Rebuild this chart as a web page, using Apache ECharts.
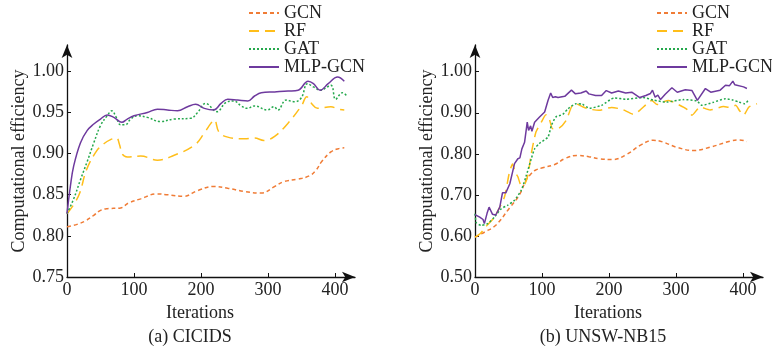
<!DOCTYPE html>
<html>
<head>
<meta charset="utf-8">
<script src="https://cdn.jsdelivr.net/npm/echarts@6/dist/echarts.min.js"></script>
<style>html,body{margin:0;padding:0;background:#fff;}#c{width:772px;height:354px;}</style>
</head>
<body>
<div id="c"></div>
<script>
// ---------- Data ----------
var seriesNames = ['GCN', 'RF', 'GAT', 'MLP-GCN'];
var xTicks = [0, 100, 200, 300, 400];
var yTicksA = [0.75, 0.80, 0.85, 0.90, 0.95, 1.00];
var yTicksB = [0.50, 0.60, 0.70, 0.80, 0.90, 1.00];
var captionA = '(a) CICIDS';
var captionB = '(b) UNSW-NB15';
var xName = 'Iterations';
var yName = 'Computational efficiency';

// (a) CICIDS
var a_gcn_x = [0, 15, 27, 40, 50, 60, 80, 92, 110, 134, 150, 174, 195, 219, 240, 264, 290, 310, 324, 345, 362, 372, 380, 394, 405, 414];
var a_gcn_y = [0.811, 0.814, 0.818, 0.825, 0.831, 0.833, 0.834, 0.840, 0.845, 0.851, 0.850, 0.848, 0.855, 0.860, 0.858, 0.854, 0.852, 0.860, 0.866, 0.869, 0.873, 0.880, 0.890, 0.902, 0.906, 0.907];
var a_rf_x = [0, 10, 19, 29, 44, 55, 65, 74, 78, 83, 90, 110, 135, 160, 190, 205, 215, 220, 227, 240, 265, 280, 294, 310, 330, 350, 358, 366, 374, 394, 405, 414];
var a_rf_y = [0.827, 0.838, 0.852, 0.880, 0.903, 0.912, 0.917, 0.919, 0.912, 0.899, 0.896, 0.897, 0.892, 0.898, 0.910, 0.925, 0.937, 0.941, 0.926, 0.920, 0.918, 0.919, 0.916, 0.921, 0.937, 0.958, 0.969, 0.960, 0.955, 0.957, 0.954, 0.953];
var a_gat_x = [0, 10, 20, 30, 40, 50, 60, 67, 73, 80, 87, 95, 105, 120, 139, 160, 185, 194, 207, 224, 237, 249, 260, 269, 280, 299, 309, 315, 327, 340, 350, 359, 368, 378, 394, 401, 411, 419];
var a_gat_y = [0.827, 0.845, 0.868, 0.890, 0.913, 0.934, 0.946, 0.952, 0.945, 0.935, 0.935, 0.942, 0.946, 0.944, 0.939, 0.942, 0.943, 0.949, 0.961, 0.951, 0.962, 0.964, 0.958, 0.955, 0.958, 0.953, 0.957, 0.953, 0.965, 0.963, 0.968, 0.985, 0.981, 0.977, 0.983, 0.966, 0.974, 0.969];
var a_mlp_x = [0, 5, 10, 20, 30, 40, 50, 60, 70, 82, 90, 100, 120, 135, 150, 165, 180, 192, 205, 219, 230, 240, 255, 270, 280, 290, 310, 330, 345, 360, 368, 378, 390, 404, 414];
var a_mlp_y = [0.827, 0.860, 0.885, 0.913, 0.928, 0.936, 0.942, 0.947, 0.944, 0.938, 0.942, 0.946, 0.950, 0.954, 0.953, 0.952, 0.957, 0.960, 0.955, 0.953, 0.961, 0.966, 0.965, 0.964, 0.970, 0.974, 0.975, 0.976, 0.977, 0.988, 0.985, 0.977, 0.985, 0.993, 0.988];

// (b) UNSW-NB15
var b_gcn_x = [0, 15, 31, 51, 66, 76, 83, 90, 101, 119, 135, 153, 170, 186, 205, 227, 247, 266, 280, 301, 326, 351, 381, 394, 406];
var b_gcn_y = [0.597, 0.610, 0.626, 0.667, 0.699, 0.735, 0.750, 0.760, 0.766, 0.774, 0.789, 0.796, 0.793, 0.788, 0.786, 0.799, 0.821, 0.833, 0.829, 0.816, 0.808, 0.816, 0.831, 0.834, 0.830];
var b_rf_x = [0, 8, 16, 29, 44, 51, 56, 60, 64, 69, 74, 79, 84, 91, 99, 106, 110, 116, 125, 136, 144, 150, 160, 170, 185, 204, 220, 237, 246, 257, 264, 272, 280, 289, 301, 316, 324, 336, 351, 371, 380, 389, 395, 401, 409, 421];
var b_rf_y = [0.597, 0.606, 0.622, 0.646, 0.695, 0.752, 0.775, 0.755, 0.744, 0.723, 0.725, 0.748, 0.800, 0.853, 0.877, 0.895, 0.890, 0.861, 0.862, 0.881, 0.914, 0.922, 0.915, 0.909, 0.906, 0.913, 0.908, 0.896, 0.906, 0.922, 0.930, 0.920, 0.926, 0.930, 0.922, 0.909, 0.894, 0.914, 0.907, 0.915, 0.913, 0.918, 0.905, 0.894, 0.914, 0.922];
var b_gat_x = [0, 2, 9, 19, 29, 39, 49, 59, 69, 76, 84, 89, 96, 109, 114, 121, 131, 139, 151, 160, 171, 189, 208, 225, 251, 266, 286, 311, 331, 339, 355, 374, 385, 394, 403, 408];
var b_gat_y = [0.654, 0.632, 0.626, 0.630, 0.646, 0.666, 0.675, 0.687, 0.711, 0.744, 0.788, 0.812, 0.825, 0.841, 0.869, 0.890, 0.896, 0.910, 0.922, 0.921, 0.911, 0.918, 0.936, 0.933, 0.937, 0.931, 0.926, 0.932, 0.929, 0.918, 0.925, 0.934, 0.931, 0.926, 0.922, 0.930];
var b_mlp_x = [0, 7, 12, 14, 18, 21, 26, 31, 37, 41, 46, 52, 59, 64, 67, 70, 74, 78, 80, 83, 85, 89, 96, 104, 109, 113, 116, 120, 124, 134, 144, 150, 158, 166, 170, 180, 189, 196, 204, 214, 225, 234, 246, 255, 262, 265, 269, 273, 277, 284, 294, 302, 314, 324, 332, 344, 352, 366, 374, 380, 385, 388, 401, 406];
var b_mlp_y = [0.652, 0.646, 0.640, 0.630, 0.655, 0.670, 0.653, 0.651, 0.670, 0.705, 0.705, 0.727, 0.776, 0.788, 0.790, 0.812, 0.828, 0.877, 0.857, 0.868, 0.855, 0.877, 0.889, 0.902, 0.930, 0.948, 0.937, 0.939, 0.937, 0.940, 0.955, 0.946, 0.948, 0.953, 0.946, 0.942, 0.942, 0.954, 0.948, 0.953, 0.948, 0.950, 0.937, 0.942, 0.947, 0.955, 0.938, 0.943, 0.932, 0.945, 0.961, 0.950, 0.956, 0.954, 0.930, 0.959, 0.950, 0.955, 0.967, 0.966, 0.977, 0.968, 0.963, 0.959];

// ---------- Build ----------
function zip(xs, ys) { return xs.map(function (x, i) { return [x, ys[i]]; }); }
var FONT = "'Liberation Serif', 'Times New Roman', serif";
var TXT = '#222';
var FS = 18;
var colors = { 'GCN': '#F07C36', 'RF': '#FFBE1A', 'GAT': '#24A84C', 'MLP-GCN': '#6E3A9E' };
var dashes = { 'GCN': [4, 3], 'RF': [10, 6], 'GAT': [2, 2], 'MLP-GCN': 'solid' };

function xAxisCfg(gi) {
  return {
    gridIndex: gi, type: 'value', min: 0, max: 430,
    name: xName, nameLocation: 'middle', nameGap: 23,
    nameTextStyle: { fontFamily: FONT, fontSize: FS, color: TXT, padding: [0, 22, 0, 0] },
    axisLine: { show: true, symbol: ['none', 'arrow'], symbolSize: [8, 13], lineStyle: { color: '#111', width: 1.3 } },
    axisTick: { show: true, inside: true, length: 4, customValues: xTicks, lineStyle: { color: '#111' } },
    axisLabel: { customValues: xTicks, margin: 4, fontFamily: FONT, fontSize: FS, color: TXT },
    splitLine: { show: false }
  };
}
function yAxisCfg(gi, min, max, ticks) {
  return {
    gridIndex: gi, type: 'value', min: min, max: max,
    name: yName, nameLocation: 'middle', nameGap: 37, nameRotate: 90,
    nameTextStyle: { fontFamily: FONT, fontSize: FS, color: TXT },
    axisLine: { show: true, symbol: ['none', 'arrow'], symbolSize: [8, 13], lineStyle: { color: '#111', width: 1.3 } },
    axisTick: { show: true, inside: true, length: 4, customValues: ticks, lineStyle: { color: '#111' } },
    axisLabel: { customValues: ticks, margin: 3, fontFamily: FONT, fontSize: FS, color: TXT,
      formatter: function (v) { return v.toFixed(2); } },
    splitLine: { show: false }
  };
}
function mkSeries(name, xs, ys, gi, smooth) {
  return {
    name: name, type: 'line', xAxisIndex: gi, yAxisIndex: gi,
    data: zip(xs, ys), symbol: 'none', symbolSize: 0, showSymbol: false, smooth: smooth, animation: false,
    lineStyle: { color: colors[name], width: 1.5, type: dashes[name] },
    itemStyle: { color: colors[name] },
    z: name === 'MLP-GCN' ? 5 : (name === 'GAT' ? 4 : 3)
  };
}
function legendCfg(left) {
  return {
    left: left, top: 4, orient: 'vertical', itemWidth: 30, itemHeight: 10, itemGap: 0,
    data: seriesNames,
    itemStyle: { opacity: 0, borderWidth: 0 },
    textStyle: { fontFamily: FONT, fontSize: FS, color: TXT, lineHeight: 18, padding: [0, 0, 0, 0] },
    padding: 0
  };
}

var option = {
  backgroundColor: '#fff',
  animation: false,
  grid: [
    { left: 67, top: 45, width: 288, height: 232 },
    { left: 475, top: 45, width: 288, height: 232 }
  ],
  legend: [legendCfg(248), legendCfg(656)],
  xAxis: [xAxisCfg(0), xAxisCfg(1)],
  yAxis: [yAxisCfg(0, 0.75, 1.032, yTicksA), yAxisCfg(1, 0.5, 1.065, yTicksB)],
  series: [
    mkSeries('GCN', a_gcn_x, a_gcn_y, 0, 0.4),
    mkSeries('RF', a_rf_x, a_rf_y, 0, 0.4),
    mkSeries('GAT', a_gat_x, a_gat_y, 0, 0.4),
    mkSeries('MLP-GCN', a_mlp_x, a_mlp_y, 0, 0.4),
    mkSeries('GCN', b_gcn_x, b_gcn_y, 1, 0.4),
    mkSeries('RF', b_rf_x, b_rf_y, 1, 0.2),
    mkSeries('GAT', b_gat_x, b_gat_y, 1, 0.2),
    mkSeries('MLP-GCN', b_mlp_x, b_mlp_y, 1, false)
  ],
  graphic: [
    { type: 'text', x: 190, y: 337, style: { text: captionA, x: 0, y: 0, textAlign: 'center', textVerticalAlign: 'middle', fontFamily: FONT, fontSize: FS, fill: TXT } },
    { type: 'text', x: 603, y: 337, style: { text: captionB, x: 0, y: 0, textAlign: 'center', textVerticalAlign: 'middle', fontFamily: FONT, fontSize: FS, fill: TXT } }
  ]
};
var chart = echarts.init(document.getElementById('c'), null, { renderer: 'canvas' });
chart.setOption(option);
</script>
</body>
</html>
